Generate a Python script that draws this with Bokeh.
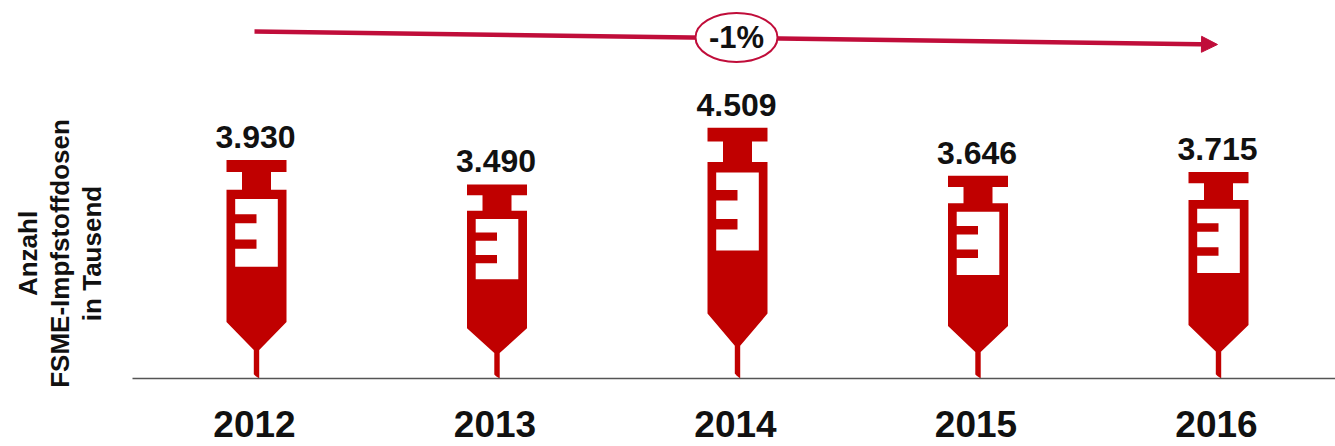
from bokeh.core.properties import value
from bokeh.embed import file_html
from bokeh.models import Arrow, FixedTicker, Label, NormalHead, Range1d
from bokeh.plotting import figure
from bokeh.resources import INLINE

# Vaccine doses per year, in thousands
years = [2012, 2013, 2014, 2015, 2016]
doses = [3930, 3490, 4509, 3646, 3715]
dose_labels = ["3.930", "3.490", "4.509", "3.646", "3.715"]
change_label = "-1%"
axis_title = ["Anzahl", "FSME-Impfstoffdosen", "in Tausend"]

SYRINGE_RED = "#C00000"
TREND_RED = "#C00D3A"
FONT = "Liberation Sans"

WIDTH, HEIGHT = 1335, 446
AXIS_START, BASELINE = 132, 378
PX_PER_YEAR = 240.5
PX_PER_DOSE = 0.0556
FIRST_CENTER = 256
YEAR_LABEL_SHIFT = 2


def px_x(px):
    return years[0] + (px - FIRST_CENTER) / PX_PER_YEAR


def px_y(px):
    return (BASELINE - px) / PX_PER_DOSE


p = figure(
    width=WIDTH, height=HEIGHT, output_backend="svg", toolbar_location=None,
    x_range=Range1d(px_x(0), px_x(WIDTH)), y_range=Range1d(px_y(HEIGHT), px_y(0)),
    min_border_left=0, min_border_right=0, min_border_top=0, min_border_bottom=0,
)
p.background_fill_color = None
p.outline_line_color = None
p.grid.visible = False
p.yaxis.visible = False

# The year axis stays on the zero line inside the frame and sits on its own
# range so that its labels can be nudged a little left of the syringes' centres.
p.extra_x_ranges = {"year_axis": Range1d(px_x(YEAR_LABEL_SHIFT), px_x(WIDTH + YEAR_LABEL_SHIFT))}
axis = p.xaxis[0]
axis.fixed_location = 0
axis.x_range_name = "year_axis"
axis.bounds = (px_x(AXIS_START + YEAR_LABEL_SHIFT), px_x(WIDTH + YEAR_LABEL_SHIFT))
axis.ticker = FixedTicker(ticks=years)
axis.axis_line_color = "#555555"
axis.axis_line_width = 1.5
axis.major_tick_line_color = None
axis.minor_tick_line_color = None
axis.major_label_text_font = FONT
axis.major_label_text_font_style = "bold"
axis.major_label_text_font_size = "37px"
axis.major_label_text_color = "#111111"
axis.major_label_standoff = 26

# Syringe outline: horizontal offset in pixels from the centre, height as a
# share of the syringe's value, so that each icon stretches with its dose.
BODY = [
    (-30, 1.0), (30, 1.0), (30, 0.945), (14.5, 0.945), (14.5, 0.864),
    (30, 0.864), (30, 0.259), (2.7, 0.131), (2.7, 0.0), (-1, 0.012),
    (-2.7, 0.02), (-2.7, 0.131), (-30, 0.259), (-30, 0.864), (-14.5, 0.864),
    (-14.5, 0.945), (-30, 0.945),
]
WINDOW = [
    (-21.3, 0.822), (21.3, 0.822), (21.3, 0.511), (-21.3, 0.511),
    (-21.3, 0.594), (0, 0.594), (0, 0.636), (-21.3, 0.636),
    (-21.3, 0.71), (0, 0.71), (0, 0.752), (-21.3, 0.752),
]

p.multi_polygons(
    xs=[[[[year + dx / PX_PER_YEAR for dx, _ in BODY],
          [year + dx / PX_PER_YEAR for dx, _ in WINDOW]]] for year in years],
    ys=[[[[dose * share for _, share in BODY],
          [dose * share for _, share in WINDOW]]] for dose in doses],
    fill_color=SYRINGE_RED, line_color=None,
)

p.text(
    x=years, y=doses, text=dose_labels, x_offset=-1, y_offset=-12,
    text_font=value(FONT), text_font_style="bold", text_font_size="32px",
    text_color="#111111", text_align="center", text_baseline="bottom",
)

# Trend arrow over the whole period, with the change in an ellipse on it
p.add_layout(Arrow(
    x_start=px_x(254), y_start=px_y(31), x_end=px_x(1217), y_end=px_y(44),
    line_color=TREND_RED, line_width=4.5, level="underlay",
    end=NormalHead(size=16, fill_color=TREND_RED, line_color=TREND_RED),
))
p.ellipse(
    x=[px_x(736)], y=[px_y(37)], width=82, height=49,
    width_units="screen", height_units="screen",
    fill_color="white", line_color=TREND_RED, line_width=2,
)
p.text(
    x=[px_x(736)], y=[px_y(37)], text=[change_label],
    text_font=value(FONT), text_font_style="bold", text_font_size="31px",
    text_color="#111111", text_align="center", text_baseline="middle",
)

# Axis title, three rotated lines left of the year axis
for title, x_px in zip(axis_title, (27, 59, 91)):
    p.add_layout(Label(
        x=x_px, y=HEIGHT - 253, x_units="screen", y_units="screen", text=title,
        angle=90, angle_units="deg", text_align="center", text_baseline="middle",
        text_font=FONT, text_font_style="bold", text_font_size="26px", text_color="#111111",
    ))

open("out.html", "w").write(file_html(p, INLINE))
